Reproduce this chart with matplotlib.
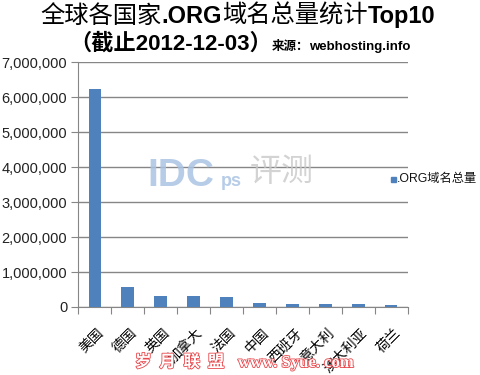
import matplotlib
matplotlib.use('Agg')
import matplotlib.pyplot as plt
import matplotlib.patheffects as pe
from matplotlib.ticker import FuncFormatter

plt.rcParams['font.family'] = ['Liberation Sans', 'Noto Sans CJK SC']

countries = ['美国', '德国', '英国', '加拿大', '法国', '中国', '西班牙', '意大利', '澳大利亚', '荷兰']
domains = [6230000, 580000, 320000, 320000, 290000, 120000, 95000, 95000, 92000, 66000]
series_name = '.ORG域名总量'

W, H = 480, 375
fig = plt.figure(figsize=(W / 100, H / 100), dpi=100)
ax = fig.add_axes([78.3 / W, 1 - 307 / H, (407.7 - 78.3) / W, (307 - 62.3) / H])

bar_color = '#4f81bd'
grid_color = '#868686'

x = list(range(len(countries)))
ax.bar(x, domains, width=0.38, color=bar_color, zorder=3)
ax.set_xlim(-0.5, len(countries) - 0.5)
ax.set_ylim(0, 7000000)
ax.set_yticks(range(0, 7000001, 1000000))
ax.yaxis.set_major_formatter(FuncFormatter(lambda v, p: f'{int(v):,}'))
ax.grid(axis='y', color=grid_color, linewidth=1, zorder=0)
ax.set_axisbelow(True)

for s in ['top', 'right']:
    ax.spines[s].set_visible(False)
for s in ['left', 'bottom']:
    ax.spines[s].set_color(grid_color)

# category ticks on boundaries
ax.set_xticks([i - 0.5 for i in range(len(countries) + 1)])
ax.set_xticklabels([])
ax.tick_params(axis='x', length=5, color=grid_color, direction='out')
ax.tick_params(axis='y', length=5, color=grid_color, direction='out',
               labelsize=10.5, labelcolor='#222222', pad=3)

for i, name in enumerate(countries):
    ax.annotate(name, xy=(i, 0), xycoords=('data', 'axes fraction'),
                xytext=(2, -19), textcoords='offset pixels',
                rotation=45, ha='right', va='top', rotation_mode='anchor',
                fontsize=10, family=['Noto Sans CJK SC'])

# watermark in the middle
fig.text(147 / W, 1 - 186 / H, 'IDC', fontsize=28, weight='bold', color='#a9c3e3',
         alpha=0.85, family=['Liberation Sans'])
fig.text(221 / W, 1 - 186 / H, 'ps', fontsize=13, weight='bold', color='#a9c3e3',
         alpha=0.85, family=['Liberation Sans'])
fig.text(282 / W, 1 - 172 / H, '评测', fontsize=23, color='#c8c8c8', alpha=0.8,
         ha='center', va='center', family=['Noto Sans CJK SC'])

# legend
fig.patches.append(plt.Rectangle((390.5 / W, 1 - 182 / H), 5.5 / W, 5.5 / H,
                                 transform=fig.transFigure, color=bar_color))
fig.text(397 / W, 1 - 179 / H, series_name, fontsize=8.8, va='center', color='#111111')


def chain(pieces, center_x, baseline_y):
    fig.canvas.draw()
    r = fig.canvas.get_renderer()
    texts = []
    for s, kw in pieces:
        t = fig.text(0, baseline_y / H, s, va='baseline', **kw)
        texts.append(t)
    widths = [t.get_window_extent(r).width for t in texts]
    xpos = center_x - sum(widths) / 2
    for t, w in zip(texts, widths):
        t.set_x(xpos / W)
        xpos += w


cjk = ['Noto Sans CJK SC']
lat = ['Liberation Sans', 'Noto Sans CJK SC']
chain([('全球各国家', dict(fontsize=17.5, family=cjk)),
       ('.ORG', dict(fontsize=17, family=lat, weight='bold')),
       ('域名总量统计', dict(fontsize=17.5, family=cjk)),
       ('Top10', dict(fontsize=17, family=lat, weight='bold'))],
      237.5, H - 23)
chain([('（截止2012-12-03）', dict(fontsize=16, family=lat, weight='bold')),
       ('来源：', dict(fontsize=9, family=cjk, weight='bold')),
       ('webhosting.info', dict(fontsize=9.5, family=lat, weight='bold'))],
      240, H - 50)

# bottom watermark
stroke = [pe.withStroke(linewidth=1.2, foreground='#e8474b')]
fig.text(135 / W, 1 - 367 / H, '岁  月  联  盟', fontsize=12, color='white',
         weight='bold', family=cjk, path_effects=stroke)
fig.text(238 / W, 1 - 367 / H, 'www. Syue. com', fontsize=12, color='white',
         weight='bold', family=['Liberation Serif'], path_effects=stroke)

fig.savefig('out.png', dpi=100)
